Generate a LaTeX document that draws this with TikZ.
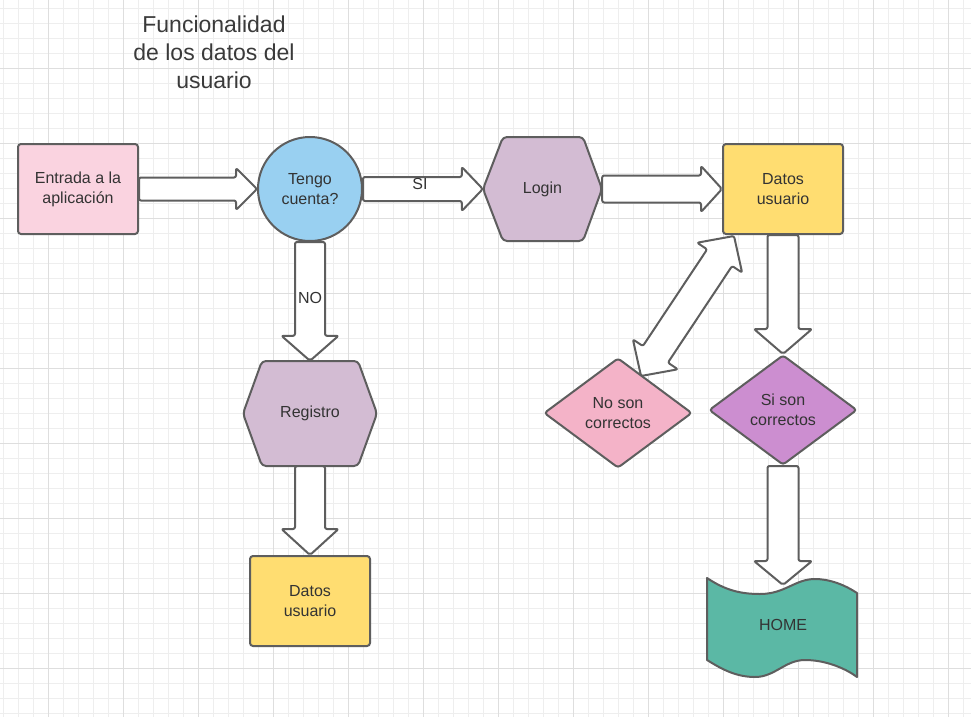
\documentclass[tikz,border=0pt]{standalone}
\usepackage{fontspec}
\setmainfont{Liberation Sans}
\usetikzlibrary{calc,shapes.geometric}
\definecolor{cStroke}{HTML}{5E5E5E}
\definecolor{cText}{HTML}{333333}
\definecolor{cTitle}{HTML}{3A3A3A}
\definecolor{cPink}{HTML}{FAD3E0}
\definecolor{cBlue}{HTML}{99D0F1}
\definecolor{cMauve}{HTML}{D3BCD3}
\definecolor{cYellow}{HTML}{FFDD71}
\definecolor{cRose}{HTML}{F4B3C8}
\definecolor{cViolet}{HTML}{CC8ED0}
\definecolor{cTeal}{HTML}{5BB8A5}
\definecolor{cGridMinor}{HTML}{EEEEEE}
\definecolor{cGridMajor}{HTML}{DEDEDE}
\newcommand\myfont{\fontsize{16}{20}\selectfont}
\newcommand\mytitlefont{\fontsize{23}{28}\selectfont}
% single block arrow: from, to, half shaft, half head, head length
\newcommand\sarrow[5]{%
\draw[blockarrow] let \p1=(#1), \p2=(#2), \n1={atan2(\y2-\y1,\x2-\x1)}, \n2={veclen(\x2-\x1,\y2-\y1)},
 \p3=($(\p1)+(\n1:{(\n2-#5)*1pt})$) in
 ($(\p1)+({\n1+90}:#3pt)$) -- ($(\p3)+({\n1+90}:#3pt)$) -- ($(\p3)+({\n1+90}:#4pt)$) -- (\p2)
 -- ($(\p3)+({\n1-90}:#4pt)$) -- ($(\p3)+({\n1-90}:#3pt)$) -- ($(\p1)+({\n1-90}:#3pt)$) -- cycle;}
% double block arrow
\newcommand\darrow[5]{%
\draw[blockarrow] let \p1=(#1), \p2=(#2), \n1={atan2(\y2-\y1,\x2-\x1)}, \n2={veclen(\x2-\x1,\y2-\y1)},
 \p3=($(\p1)+(\n1:#5pt)$), \p4=($(\p1)+(\n1:{(\n2-#5)*1pt})$) in
 (\p1) -- ($(\p3)+({\n1+90}:#4pt)$) -- ($(\p3)+({\n1+90}:#3pt)$) -- ($(\p4)+({\n1+90}:#3pt)$)
 -- ($(\p4)+({\n1+90}:#4pt)$) -- (\p2) -- ($(\p4)+({\n1-90}:#4pt)$) -- ($(\p4)+({\n1-90}:#3pt)$)
 -- ($(\p3)+({\n1-90}:#3pt)$) -- ($(\p3)+({\n1-90}:#4pt)$) -- cycle;}
\begin{document}
\begin{tikzpicture}[x=1pt,y=-1pt,
  outline/.style={draw=cStroke, line width=2pt, line join=round},
  box/.style={outline, rounded corners=3pt, minimum width=120pt, minimum height=90pt, inner sep=0pt, align=center, font=\myfont, text=cText},
  roundnode/.style={outline, circle, minimum size=104pt, inner sep=0pt, align=center, font=\myfont, text=cText},
  dia/.style={outline, diamond, aspect=1.35, rounded corners=3pt, minimum width=148pt, minimum height=110pt, inner sep=0pt, align=center, font=\myfont, text=cText},
  hexfill/.style={outline, rounded corners=4pt, fill=cMauve},
  plain/.style={inner sep=0pt, align=center, font=\myfont, text=cText},
  blockarrow/.style={outline, fill=white, rounded corners=2pt},
  gridminor/.style={cGridMinor, line width=1pt},
  gridmajor/.style={cGridMajor, line width=1pt}]
\useasboundingbox (0,0) rectangle (971,717);
\fill[white] (0,0) rectangle (971,717);
% grid
\foreach \x in {3.5,18.5,...,963.5} \draw[gridminor] (\x,0) -- (\x,717);
\foreach \y in {8.5,23.5,...,713.5} \draw[gridminor] (0,\y) -- (971,\y);
\foreach \x in {48.5,123.5,...,948.5} \draw[gridmajor] (\x,0) -- (\x,717);
\foreach \y in {68.5,143.5,...,668.5} \draw[gridmajor] (0,\y) -- (971,\y);
% title
\node[inner sep=0pt, align=center, font=\mytitlefont, text=cTitle] (title) at (214,52) {Funcionalidad\\de los datos del\\usuario};
% shapes
\node[box, fill=cPink] (entrada) at (78,189) {Entrada a la\\aplicación};
\node[roundnode, fill=cBlue] (tengo) at (310,189) {Tengo\\cuenta?};
\draw[hexfill] (483,189) -- (503,137) -- (583,137) -- (602,189) -- (583,241) -- (503,241) -- cycle;
\node[plain, minimum width=119pt, minimum height=104pt] (login) at (542.5,189) {Login};
\node[box, fill=cYellow] (datos1) at (783,189) {Datos\\usuario};
\draw[hexfill] (243,413.5) -- (262,361) -- (358,361) -- (377,413.5) -- (358,466) -- (262,466) -- cycle;
\node[plain, minimum width=134pt, minimum height=105pt] (registro) at (310,413.5) {Registro};
\node[box, fill=cYellow] (datos2) at (310,601) {Datos\\usuario};
\node[dia, fill=cRose] (nosc) at (618,413) {No son\\correctos};
\node[dia, fill=cViolet] (sisc) at (783,410) {Si son\\correctos};
\draw[outline, fill=cTeal] (707,578) .. controls (725,590) and (740,594) .. (760,594)
  .. controls (785,594) and (795,579) .. (815,579) .. controls (830,579) and (845,585) .. (857,593)
  -- (857,677) .. controls (845,668) and (825,660) .. (805,660)
  .. controls (785,660) and (775,677) .. (755,677) .. controls (735,677) and (720,668) .. (707,660) -- cycle;
\node[plain] (home) at (783,625) {HOME};
\coordinate (hometop) at (783,585);
\coordinate (dlow) at (641,376);
\coordinate (dhigh) at (734,236);
% arrows
\sarrow{entrada.east}{tengo.west}{11.5}{21}{21}
\sarrow{tengo.east}{login.west}{12}{22}{21}
\sarrow{login.east}{datos1.west}{13.5}{23}{21}
\sarrow{tengo.south}{registro.north}{15}{28.5}{25}
\sarrow{registro.south}{datos2.north}{15}{28.5}{26}
\sarrow{datos1.south}{sisc.north}{15.5}{29}{25}
\sarrow{sisc.south}{hometop}{15.5}{29}{24}
\darrow{dlow}{dhigh}{15}{27}{26}
% labels
\node[plain] (si) at (420,184) {SI};
\node[plain] (no) at (310,298) {NO};
\end{tikzpicture}
\end{document}
